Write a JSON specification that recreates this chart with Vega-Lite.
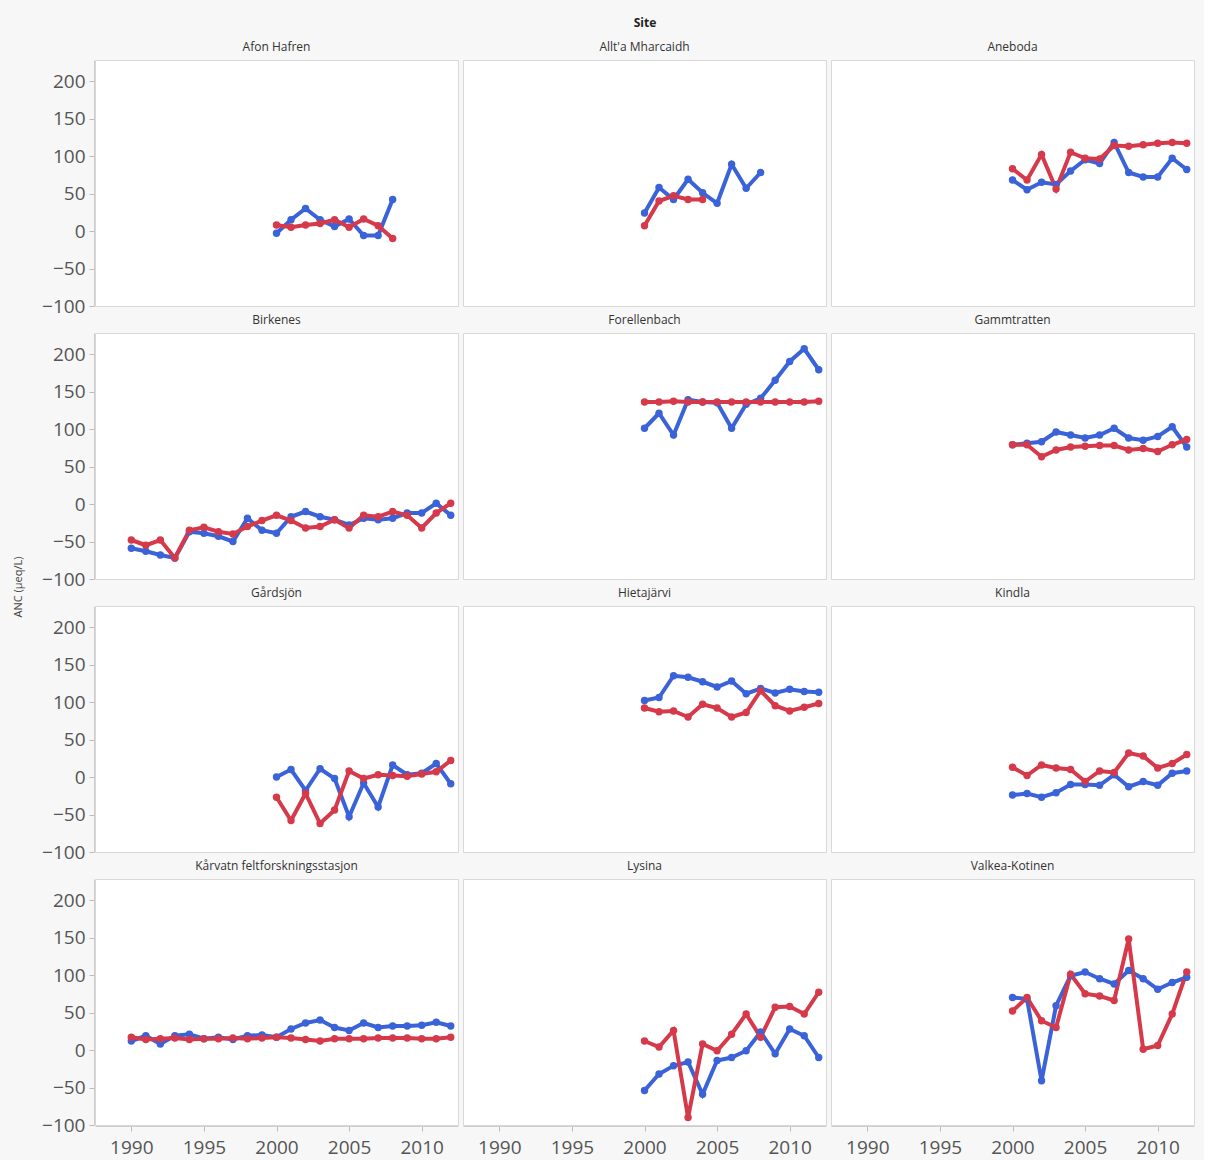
{
  "$schema": "https://vega.github.io/schema/vega-lite/v6.json",
  "background": "#f7f7f7",
  "padding": {"left": 12, "top": 17, "right": 8, "bottom": 3},
  "title": {"text": "ANC (µeq/L)", "orient": "left", "anchor": "middle", "fontSize": 11, "fontWeight": "normal", "color": "#444", "font": "Open Sans", "offset": 18},
  "datasets": {
    "obs": [
      {"Site": "Afon Hafren", "Series": "Observed", "Year": 2000, "ANC": -3},
      {"Site": "Afon Hafren", "Series": "Observed", "Year": 2001, "ANC": 15},
      {"Site": "Afon Hafren", "Series": "Observed", "Year": 2002, "ANC": 30},
      {"Site": "Afon Hafren", "Series": "Observed", "Year": 2003, "ANC": 15},
      {"Site": "Afon Hafren", "Series": "Observed", "Year": 2004, "ANC": 6},
      {"Site": "Afon Hafren", "Series": "Observed", "Year": 2005, "ANC": 16},
      {"Site": "Afon Hafren", "Series": "Observed", "Year": 2006, "ANC": -6},
      {"Site": "Afon Hafren", "Series": "Observed", "Year": 2007, "ANC": -6},
      {"Site": "Afon Hafren", "Series": "Observed", "Year": 2008, "ANC": 42},
      {"Site": "Afon Hafren", "Series": "Modelled", "Year": 2000, "ANC": 8},
      {"Site": "Afon Hafren", "Series": "Modelled", "Year": 2001, "ANC": 5},
      {"Site": "Afon Hafren", "Series": "Modelled", "Year": 2002, "ANC": 8},
      {"Site": "Afon Hafren", "Series": "Modelled", "Year": 2003, "ANC": 10},
      {"Site": "Afon Hafren", "Series": "Modelled", "Year": 2004, "ANC": 15},
      {"Site": "Afon Hafren", "Series": "Modelled", "Year": 2005, "ANC": 5},
      {"Site": "Afon Hafren", "Series": "Modelled", "Year": 2006, "ANC": 16},
      {"Site": "Afon Hafren", "Series": "Modelled", "Year": 2007, "ANC": 7},
      {"Site": "Afon Hafren", "Series": "Modelled", "Year": 2008, "ANC": -10},

      {"Site": "Allt'a Mharcaidh", "Series": "Observed", "Year": 2000, "ANC": 24},
      {"Site": "Allt'a Mharcaidh", "Series": "Observed", "Year": 2001, "ANC": 58},
      {"Site": "Allt'a Mharcaidh", "Series": "Observed", "Year": 2002, "ANC": 42},
      {"Site": "Allt'a Mharcaidh", "Series": "Observed", "Year": 2003, "ANC": 69},
      {"Site": "Allt'a Mharcaidh", "Series": "Observed", "Year": 2004, "ANC": 51},
      {"Site": "Allt'a Mharcaidh", "Series": "Observed", "Year": 2005, "ANC": 37},
      {"Site": "Allt'a Mharcaidh", "Series": "Observed", "Year": 2006, "ANC": 89},
      {"Site": "Allt'a Mharcaidh", "Series": "Observed", "Year": 2007, "ANC": 57},
      {"Site": "Allt'a Mharcaidh", "Series": "Observed", "Year": 2008, "ANC": 78},
      {"Site": "Allt'a Mharcaidh", "Series": "Modelled", "Year": 2000, "ANC": 7},
      {"Site": "Allt'a Mharcaidh", "Series": "Modelled", "Year": 2001, "ANC": 40},
      {"Site": "Allt'a Mharcaidh", "Series": "Modelled", "Year": 2002, "ANC": 47},
      {"Site": "Allt'a Mharcaidh", "Series": "Modelled", "Year": 2003, "ANC": 42},
      {"Site": "Allt'a Mharcaidh", "Series": "Modelled", "Year": 2004, "ANC": 42},

      {"Site": "Aneboda", "Series": "Observed", "Year": 2000, "ANC": 68},
      {"Site": "Aneboda", "Series": "Observed", "Year": 2001, "ANC": 55},
      {"Site": "Aneboda", "Series": "Observed", "Year": 2002, "ANC": 65},
      {"Site": "Aneboda", "Series": "Observed", "Year": 2003, "ANC": 62},
      {"Site": "Aneboda", "Series": "Observed", "Year": 2004, "ANC": 80},
      {"Site": "Aneboda", "Series": "Observed", "Year": 2005, "ANC": 95},
      {"Site": "Aneboda", "Series": "Observed", "Year": 2006, "ANC": 90},
      {"Site": "Aneboda", "Series": "Observed", "Year": 2007, "ANC": 118},
      {"Site": "Aneboda", "Series": "Observed", "Year": 2008, "ANC": 78},
      {"Site": "Aneboda", "Series": "Observed", "Year": 2009, "ANC": 72},
      {"Site": "Aneboda", "Series": "Observed", "Year": 2010, "ANC": 72},
      {"Site": "Aneboda", "Series": "Observed", "Year": 2011, "ANC": 97},
      {"Site": "Aneboda", "Series": "Observed", "Year": 2012, "ANC": 82},
      {"Site": "Aneboda", "Series": "Modelled", "Year": 2000, "ANC": 83},
      {"Site": "Aneboda", "Series": "Modelled", "Year": 2001, "ANC": 68},
      {"Site": "Aneboda", "Series": "Modelled", "Year": 2002, "ANC": 102},
      {"Site": "Aneboda", "Series": "Modelled", "Year": 2003, "ANC": 56},
      {"Site": "Aneboda", "Series": "Modelled", "Year": 2004, "ANC": 105},
      {"Site": "Aneboda", "Series": "Modelled", "Year": 2005, "ANC": 97},
      {"Site": "Aneboda", "Series": "Modelled", "Year": 2006, "ANC": 96},
      {"Site": "Aneboda", "Series": "Modelled", "Year": 2007, "ANC": 114},
      {"Site": "Aneboda", "Series": "Modelled", "Year": 2008, "ANC": 113},
      {"Site": "Aneboda", "Series": "Modelled", "Year": 2009, "ANC": 115},
      {"Site": "Aneboda", "Series": "Modelled", "Year": 2010, "ANC": 117},
      {"Site": "Aneboda", "Series": "Modelled", "Year": 2011, "ANC": 118},
      {"Site": "Aneboda", "Series": "Modelled", "Year": 2012, "ANC": 117},

      {"Site": "Birkenes", "Series": "Observed", "Year": 1990, "ANC": -59},
      {"Site": "Birkenes", "Series": "Observed", "Year": 1991, "ANC": -63},
      {"Site": "Birkenes", "Series": "Observed", "Year": 1992, "ANC": -68},
      {"Site": "Birkenes", "Series": "Observed", "Year": 1993, "ANC": -72},
      {"Site": "Birkenes", "Series": "Observed", "Year": 1994, "ANC": -37},
      {"Site": "Birkenes", "Series": "Observed", "Year": 1995, "ANC": -39},
      {"Site": "Birkenes", "Series": "Observed", "Year": 1996, "ANC": -43},
      {"Site": "Birkenes", "Series": "Observed", "Year": 1997, "ANC": -50},
      {"Site": "Birkenes", "Series": "Observed", "Year": 1998, "ANC": -19},
      {"Site": "Birkenes", "Series": "Observed", "Year": 1999, "ANC": -35},
      {"Site": "Birkenes", "Series": "Observed", "Year": 2000, "ANC": -39},
      {"Site": "Birkenes", "Series": "Observed", "Year": 2001, "ANC": -17},
      {"Site": "Birkenes", "Series": "Observed", "Year": 2002, "ANC": -10},
      {"Site": "Birkenes", "Series": "Observed", "Year": 2003, "ANC": -17},
      {"Site": "Birkenes", "Series": "Observed", "Year": 2004, "ANC": -21},
      {"Site": "Birkenes", "Series": "Observed", "Year": 2005, "ANC": -28},
      {"Site": "Birkenes", "Series": "Observed", "Year": 2006, "ANC": -19},
      {"Site": "Birkenes", "Series": "Observed", "Year": 2007, "ANC": -21},
      {"Site": "Birkenes", "Series": "Observed", "Year": 2008, "ANC": -19},
      {"Site": "Birkenes", "Series": "Observed", "Year": 2009, "ANC": -12},
      {"Site": "Birkenes", "Series": "Observed", "Year": 2010, "ANC": -12},
      {"Site": "Birkenes", "Series": "Observed", "Year": 2011, "ANC": 1},
      {"Site": "Birkenes", "Series": "Observed", "Year": 2012, "ANC": -15},
      {"Site": "Birkenes", "Series": "Modelled", "Year": 1990, "ANC": -48},
      {"Site": "Birkenes", "Series": "Modelled", "Year": 1991, "ANC": -55},
      {"Site": "Birkenes", "Series": "Modelled", "Year": 1992, "ANC": -48},
      {"Site": "Birkenes", "Series": "Modelled", "Year": 1993, "ANC": -72},
      {"Site": "Birkenes", "Series": "Modelled", "Year": 1994, "ANC": -35},
      {"Site": "Birkenes", "Series": "Modelled", "Year": 1995, "ANC": -31},
      {"Site": "Birkenes", "Series": "Modelled", "Year": 1996, "ANC": -37},
      {"Site": "Birkenes", "Series": "Modelled", "Year": 1997, "ANC": -40},
      {"Site": "Birkenes", "Series": "Modelled", "Year": 1998, "ANC": -30},
      {"Site": "Birkenes", "Series": "Modelled", "Year": 1999, "ANC": -22},
      {"Site": "Birkenes", "Series": "Modelled", "Year": 2000, "ANC": -15},
      {"Site": "Birkenes", "Series": "Modelled", "Year": 2001, "ANC": -22},
      {"Site": "Birkenes", "Series": "Modelled", "Year": 2002, "ANC": -32},
      {"Site": "Birkenes", "Series": "Modelled", "Year": 2003, "ANC": -30},
      {"Site": "Birkenes", "Series": "Modelled", "Year": 2004, "ANC": -21},
      {"Site": "Birkenes", "Series": "Modelled", "Year": 2005, "ANC": -32},
      {"Site": "Birkenes", "Series": "Modelled", "Year": 2006, "ANC": -15},
      {"Site": "Birkenes", "Series": "Modelled", "Year": 2007, "ANC": -17},
      {"Site": "Birkenes", "Series": "Modelled", "Year": 2008, "ANC": -10},
      {"Site": "Birkenes", "Series": "Modelled", "Year": 2009, "ANC": -15},
      {"Site": "Birkenes", "Series": "Modelled", "Year": 2010, "ANC": -32},
      {"Site": "Birkenes", "Series": "Modelled", "Year": 2011, "ANC": -12},
      {"Site": "Birkenes", "Series": "Modelled", "Year": 2012, "ANC": 1},

      {"Site": "Forellenbach", "Series": "Observed", "Year": 2000, "ANC": 101},
      {"Site": "Forellenbach", "Series": "Observed", "Year": 2001, "ANC": 121},
      {"Site": "Forellenbach", "Series": "Observed", "Year": 2002, "ANC": 92},
      {"Site": "Forellenbach", "Series": "Observed", "Year": 2003, "ANC": 139},
      {"Site": "Forellenbach", "Series": "Observed", "Year": 2004, "ANC": 136},
      {"Site": "Forellenbach", "Series": "Observed", "Year": 2005, "ANC": 135},
      {"Site": "Forellenbach", "Series": "Observed", "Year": 2006, "ANC": 101},
      {"Site": "Forellenbach", "Series": "Observed", "Year": 2007, "ANC": 133},
      {"Site": "Forellenbach", "Series": "Observed", "Year": 2008, "ANC": 141},
      {"Site": "Forellenbach", "Series": "Observed", "Year": 2009, "ANC": 165},
      {"Site": "Forellenbach", "Series": "Observed", "Year": 2010, "ANC": 190},
      {"Site": "Forellenbach", "Series": "Observed", "Year": 2011, "ANC": 207},
      {"Site": "Forellenbach", "Series": "Observed", "Year": 2012, "ANC": 179},
      {"Site": "Forellenbach", "Series": "Modelled", "Year": 2000, "ANC": 136},
      {"Site": "Forellenbach", "Series": "Modelled", "Year": 2001, "ANC": 136},
      {"Site": "Forellenbach", "Series": "Modelled", "Year": 2002, "ANC": 137},
      {"Site": "Forellenbach", "Series": "Modelled", "Year": 2003, "ANC": 136},
      {"Site": "Forellenbach", "Series": "Modelled", "Year": 2004, "ANC": 136},
      {"Site": "Forellenbach", "Series": "Modelled", "Year": 2005, "ANC": 136},
      {"Site": "Forellenbach", "Series": "Modelled", "Year": 2006, "ANC": 136},
      {"Site": "Forellenbach", "Series": "Modelled", "Year": 2007, "ANC": 136},
      {"Site": "Forellenbach", "Series": "Modelled", "Year": 2008, "ANC": 136},
      {"Site": "Forellenbach", "Series": "Modelled", "Year": 2009, "ANC": 136},
      {"Site": "Forellenbach", "Series": "Modelled", "Year": 2010, "ANC": 136},
      {"Site": "Forellenbach", "Series": "Modelled", "Year": 2011, "ANC": 136},
      {"Site": "Forellenbach", "Series": "Modelled", "Year": 2012, "ANC": 137},

      {"Site": "Gammtratten", "Series": "Observed", "Year": 2000, "ANC": 79},
      {"Site": "Gammtratten", "Series": "Observed", "Year": 2001, "ANC": 81},
      {"Site": "Gammtratten", "Series": "Observed", "Year": 2002, "ANC": 83},
      {"Site": "Gammtratten", "Series": "Observed", "Year": 2003, "ANC": 96},
      {"Site": "Gammtratten", "Series": "Observed", "Year": 2004, "ANC": 92},
      {"Site": "Gammtratten", "Series": "Observed", "Year": 2005, "ANC": 88},
      {"Site": "Gammtratten", "Series": "Observed", "Year": 2006, "ANC": 92},
      {"Site": "Gammtratten", "Series": "Observed", "Year": 2007, "ANC": 101},
      {"Site": "Gammtratten", "Series": "Observed", "Year": 2008, "ANC": 88},
      {"Site": "Gammtratten", "Series": "Observed", "Year": 2009, "ANC": 85},
      {"Site": "Gammtratten", "Series": "Observed", "Year": 2010, "ANC": 90},
      {"Site": "Gammtratten", "Series": "Observed", "Year": 2011, "ANC": 103},
      {"Site": "Gammtratten", "Series": "Observed", "Year": 2012, "ANC": 76},
      {"Site": "Gammtratten", "Series": "Modelled", "Year": 2000, "ANC": 79},
      {"Site": "Gammtratten", "Series": "Modelled", "Year": 2001, "ANC": 79},
      {"Site": "Gammtratten", "Series": "Modelled", "Year": 2002, "ANC": 63},
      {"Site": "Gammtratten", "Series": "Modelled", "Year": 2003, "ANC": 72},
      {"Site": "Gammtratten", "Series": "Modelled", "Year": 2004, "ANC": 76},
      {"Site": "Gammtratten", "Series": "Modelled", "Year": 2005, "ANC": 77},
      {"Site": "Gammtratten", "Series": "Modelled", "Year": 2006, "ANC": 78},
      {"Site": "Gammtratten", "Series": "Modelled", "Year": 2007, "ANC": 78},
      {"Site": "Gammtratten", "Series": "Modelled", "Year": 2008, "ANC": 72},
      {"Site": "Gammtratten", "Series": "Modelled", "Year": 2009, "ANC": 74},
      {"Site": "Gammtratten", "Series": "Modelled", "Year": 2010, "ANC": 70},
      {"Site": "Gammtratten", "Series": "Modelled", "Year": 2011, "ANC": 79},
      {"Site": "Gammtratten", "Series": "Modelled", "Year": 2012, "ANC": 86},

      {"Site": "Gårdsjön", "Series": "Observed", "Year": 2000, "ANC": 0},
      {"Site": "Gårdsjön", "Series": "Observed", "Year": 2001, "ANC": 10},
      {"Site": "Gårdsjön", "Series": "Observed", "Year": 2002, "ANC": -18},
      {"Site": "Gårdsjön", "Series": "Observed", "Year": 2003, "ANC": 11},
      {"Site": "Gårdsjön", "Series": "Observed", "Year": 2004, "ANC": -2},
      {"Site": "Gårdsjön", "Series": "Observed", "Year": 2005, "ANC": -53},
      {"Site": "Gårdsjön", "Series": "Observed", "Year": 2006, "ANC": -8},
      {"Site": "Gårdsjön", "Series": "Observed", "Year": 2007, "ANC": -40},
      {"Site": "Gårdsjön", "Series": "Observed", "Year": 2008, "ANC": 16},
      {"Site": "Gårdsjön", "Series": "Observed", "Year": 2009, "ANC": 3},
      {"Site": "Gårdsjön", "Series": "Observed", "Year": 2010, "ANC": 5},
      {"Site": "Gårdsjön", "Series": "Observed", "Year": 2011, "ANC": 18},
      {"Site": "Gårdsjön", "Series": "Observed", "Year": 2012, "ANC": -9},
      {"Site": "Gårdsjön", "Series": "Modelled", "Year": 2000, "ANC": -27},
      {"Site": "Gårdsjön", "Series": "Modelled", "Year": 2001, "ANC": -58},
      {"Site": "Gårdsjön", "Series": "Modelled", "Year": 2002, "ANC": -22},
      {"Site": "Gårdsjön", "Series": "Modelled", "Year": 2003, "ANC": -62},
      {"Site": "Gårdsjön", "Series": "Modelled", "Year": 2004, "ANC": -44},
      {"Site": "Gårdsjön", "Series": "Modelled", "Year": 2005, "ANC": 8},
      {"Site": "Gårdsjön", "Series": "Modelled", "Year": 2006, "ANC": -2},
      {"Site": "Gårdsjön", "Series": "Modelled", "Year": 2007, "ANC": 3},
      {"Site": "Gårdsjön", "Series": "Modelled", "Year": 2008, "ANC": 2},
      {"Site": "Gårdsjön", "Series": "Modelled", "Year": 2009, "ANC": 1},
      {"Site": "Gårdsjön", "Series": "Modelled", "Year": 2010, "ANC": 4},
      {"Site": "Gårdsjön", "Series": "Modelled", "Year": 2011, "ANC": 7},
      {"Site": "Gårdsjön", "Series": "Modelled", "Year": 2012, "ANC": 22},

      {"Site": "Hietajärvi", "Series": "Observed", "Year": 2000, "ANC": 102},
      {"Site": "Hietajärvi", "Series": "Observed", "Year": 2001, "ANC": 106},
      {"Site": "Hietajärvi", "Series": "Observed", "Year": 2002, "ANC": 135},
      {"Site": "Hietajärvi", "Series": "Observed", "Year": 2003, "ANC": 133},
      {"Site": "Hietajärvi", "Series": "Observed", "Year": 2004, "ANC": 127},
      {"Site": "Hietajärvi", "Series": "Observed", "Year": 2005, "ANC": 120},
      {"Site": "Hietajärvi", "Series": "Observed", "Year": 2006, "ANC": 128},
      {"Site": "Hietajärvi", "Series": "Observed", "Year": 2007, "ANC": 111},
      {"Site": "Hietajärvi", "Series": "Observed", "Year": 2008, "ANC": 118},
      {"Site": "Hietajärvi", "Series": "Observed", "Year": 2009, "ANC": 112},
      {"Site": "Hietajärvi", "Series": "Observed", "Year": 2010, "ANC": 117},
      {"Site": "Hietajärvi", "Series": "Observed", "Year": 2011, "ANC": 114},
      {"Site": "Hietajärvi", "Series": "Observed", "Year": 2012, "ANC": 113},
      {"Site": "Hietajärvi", "Series": "Modelled", "Year": 2000, "ANC": 92},
      {"Site": "Hietajärvi", "Series": "Modelled", "Year": 2001, "ANC": 87},
      {"Site": "Hietajärvi", "Series": "Modelled", "Year": 2002, "ANC": 88},
      {"Site": "Hietajärvi", "Series": "Modelled", "Year": 2003, "ANC": 80},
      {"Site": "Hietajärvi", "Series": "Modelled", "Year": 2004, "ANC": 97},
      {"Site": "Hietajärvi", "Series": "Modelled", "Year": 2005, "ANC": 92},
      {"Site": "Hietajärvi", "Series": "Modelled", "Year": 2006, "ANC": 80},
      {"Site": "Hietajärvi", "Series": "Modelled", "Year": 2007, "ANC": 86},
      {"Site": "Hietajärvi", "Series": "Modelled", "Year": 2008, "ANC": 115},
      {"Site": "Hietajärvi", "Series": "Modelled", "Year": 2009, "ANC": 95},
      {"Site": "Hietajärvi", "Series": "Modelled", "Year": 2010, "ANC": 88},
      {"Site": "Hietajärvi", "Series": "Modelled", "Year": 2011, "ANC": 93},
      {"Site": "Hietajärvi", "Series": "Modelled", "Year": 2012, "ANC": 98},

      {"Site": "Kindla", "Series": "Observed", "Year": 2000, "ANC": -24},
      {"Site": "Kindla", "Series": "Observed", "Year": 2001, "ANC": -22},
      {"Site": "Kindla", "Series": "Observed", "Year": 2002, "ANC": -27},
      {"Site": "Kindla", "Series": "Observed", "Year": 2003, "ANC": -21},
      {"Site": "Kindla", "Series": "Observed", "Year": 2004, "ANC": -10},
      {"Site": "Kindla", "Series": "Observed", "Year": 2005, "ANC": -10},
      {"Site": "Kindla", "Series": "Observed", "Year": 2006, "ANC": -11},
      {"Site": "Kindla", "Series": "Observed", "Year": 2007, "ANC": 3},
      {"Site": "Kindla", "Series": "Observed", "Year": 2008, "ANC": -13},
      {"Site": "Kindla", "Series": "Observed", "Year": 2009, "ANC": -6},
      {"Site": "Kindla", "Series": "Observed", "Year": 2010, "ANC": -11},
      {"Site": "Kindla", "Series": "Observed", "Year": 2011, "ANC": 5},
      {"Site": "Kindla", "Series": "Observed", "Year": 2012, "ANC": 8},
      {"Site": "Kindla", "Series": "Modelled", "Year": 2000, "ANC": 13},
      {"Site": "Kindla", "Series": "Modelled", "Year": 2001, "ANC": 2},
      {"Site": "Kindla", "Series": "Modelled", "Year": 2002, "ANC": 16},
      {"Site": "Kindla", "Series": "Modelled", "Year": 2003, "ANC": 12},
      {"Site": "Kindla", "Series": "Modelled", "Year": 2004, "ANC": 10},
      {"Site": "Kindla", "Series": "Modelled", "Year": 2005, "ANC": -6},
      {"Site": "Kindla", "Series": "Modelled", "Year": 2006, "ANC": 8},
      {"Site": "Kindla", "Series": "Modelled", "Year": 2007, "ANC": 6},
      {"Site": "Kindla", "Series": "Modelled", "Year": 2008, "ANC": 32},
      {"Site": "Kindla", "Series": "Modelled", "Year": 2009, "ANC": 28},
      {"Site": "Kindla", "Series": "Modelled", "Year": 2010, "ANC": 12},
      {"Site": "Kindla", "Series": "Modelled", "Year": 2011, "ANC": 18},
      {"Site": "Kindla", "Series": "Modelled", "Year": 2012, "ANC": 30},

      {"Site": "Kårvatn feltforskningsstasjon", "Series": "Observed", "Year": 1990, "ANC": 12},
      {"Site": "Kårvatn feltforskningsstasjon", "Series": "Observed", "Year": 1991, "ANC": 19},
      {"Site": "Kårvatn feltforskningsstasjon", "Series": "Observed", "Year": 1992, "ANC": 8},
      {"Site": "Kårvatn feltforskningsstasjon", "Series": "Observed", "Year": 1993, "ANC": 19},
      {"Site": "Kårvatn feltforskningsstasjon", "Series": "Observed", "Year": 1994, "ANC": 21},
      {"Site": "Kårvatn feltforskningsstasjon", "Series": "Observed", "Year": 1995, "ANC": 15},
      {"Site": "Kårvatn feltforskningsstasjon", "Series": "Observed", "Year": 1996, "ANC": 17},
      {"Site": "Kårvatn feltforskningsstasjon", "Series": "Observed", "Year": 1997, "ANC": 14},
      {"Site": "Kårvatn feltforskningsstasjon", "Series": "Observed", "Year": 1998, "ANC": 19},
      {"Site": "Kårvatn feltforskningsstasjon", "Series": "Observed", "Year": 1999, "ANC": 20},
      {"Site": "Kårvatn feltforskningsstasjon", "Series": "Observed", "Year": 2000, "ANC": 17},
      {"Site": "Kårvatn feltforskningsstasjon", "Series": "Observed", "Year": 2001, "ANC": 28},
      {"Site": "Kårvatn feltforskningsstasjon", "Series": "Observed", "Year": 2002, "ANC": 36},
      {"Site": "Kårvatn feltforskningsstasjon", "Series": "Observed", "Year": 2003, "ANC": 40},
      {"Site": "Kårvatn feltforskningsstasjon", "Series": "Observed", "Year": 2004, "ANC": 30},
      {"Site": "Kårvatn feltforskningsstasjon", "Series": "Observed", "Year": 2005, "ANC": 26},
      {"Site": "Kårvatn feltforskningsstasjon", "Series": "Observed", "Year": 2006, "ANC": 36},
      {"Site": "Kårvatn feltforskningsstasjon", "Series": "Observed", "Year": 2007, "ANC": 30},
      {"Site": "Kårvatn feltforskningsstasjon", "Series": "Observed", "Year": 2008, "ANC": 32},
      {"Site": "Kårvatn feltforskningsstasjon", "Series": "Observed", "Year": 2009, "ANC": 32},
      {"Site": "Kårvatn feltforskningsstasjon", "Series": "Observed", "Year": 2010, "ANC": 33},
      {"Site": "Kårvatn feltforskningsstasjon", "Series": "Observed", "Year": 2011, "ANC": 37},
      {"Site": "Kårvatn feltforskningsstasjon", "Series": "Observed", "Year": 2012, "ANC": 32},
      {"Site": "Kårvatn feltforskningsstasjon", "Series": "Modelled", "Year": 1990, "ANC": 17},
      {"Site": "Kårvatn feltforskningsstasjon", "Series": "Modelled", "Year": 1991, "ANC": 14},
      {"Site": "Kårvatn feltforskningsstasjon", "Series": "Modelled", "Year": 1992, "ANC": 15},
      {"Site": "Kårvatn feltforskningsstasjon", "Series": "Modelled", "Year": 1993, "ANC": 16},
      {"Site": "Kårvatn feltforskningsstasjon", "Series": "Modelled", "Year": 1994, "ANC": 14},
      {"Site": "Kårvatn feltforskningsstasjon", "Series": "Modelled", "Year": 1995, "ANC": 15},
      {"Site": "Kårvatn feltforskningsstasjon", "Series": "Modelled", "Year": 1996, "ANC": 15},
      {"Site": "Kårvatn feltforskningsstasjon", "Series": "Modelled", "Year": 1997, "ANC": 16},
      {"Site": "Kårvatn feltforskningsstasjon", "Series": "Modelled", "Year": 1998, "ANC": 15},
      {"Site": "Kårvatn feltforskningsstasjon", "Series": "Modelled", "Year": 1999, "ANC": 16},
      {"Site": "Kårvatn feltforskningsstasjon", "Series": "Modelled", "Year": 2000, "ANC": 17},
      {"Site": "Kårvatn feltforskningsstasjon", "Series": "Modelled", "Year": 2001, "ANC": 16},
      {"Site": "Kårvatn feltforskningsstasjon", "Series": "Modelled", "Year": 2002, "ANC": 14},
      {"Site": "Kårvatn feltforskningsstasjon", "Series": "Modelled", "Year": 2003, "ANC": 12},
      {"Site": "Kårvatn feltforskningsstasjon", "Series": "Modelled", "Year": 2004, "ANC": 15},
      {"Site": "Kårvatn feltforskningsstasjon", "Series": "Modelled", "Year": 2005, "ANC": 15},
      {"Site": "Kårvatn feltforskningsstasjon", "Series": "Modelled", "Year": 2006, "ANC": 15},
      {"Site": "Kårvatn feltforskningsstasjon", "Series": "Modelled", "Year": 2007, "ANC": 16},
      {"Site": "Kårvatn feltforskningsstasjon", "Series": "Modelled", "Year": 2008, "ANC": 16},
      {"Site": "Kårvatn feltforskningsstasjon", "Series": "Modelled", "Year": 2009, "ANC": 16},
      {"Site": "Kårvatn feltforskningsstasjon", "Series": "Modelled", "Year": 2010, "ANC": 15},
      {"Site": "Kårvatn feltforskningsstasjon", "Series": "Modelled", "Year": 2011, "ANC": 15},
      {"Site": "Kårvatn feltforskningsstasjon", "Series": "Modelled", "Year": 2012, "ANC": 17},

      {"Site": "Lysina", "Series": "Observed", "Year": 2000, "ANC": -54},
      {"Site": "Lysina", "Series": "Observed", "Year": 2001, "ANC": -32},
      {"Site": "Lysina", "Series": "Observed", "Year": 2002, "ANC": -21},
      {"Site": "Lysina", "Series": "Observed", "Year": 2003, "ANC": -16},
      {"Site": "Lysina", "Series": "Observed", "Year": 2004, "ANC": -59},
      {"Site": "Lysina", "Series": "Observed", "Year": 2005, "ANC": -14},
      {"Site": "Lysina", "Series": "Observed", "Year": 2006, "ANC": -10},
      {"Site": "Lysina", "Series": "Observed", "Year": 2007, "ANC": -1},
      {"Site": "Lysina", "Series": "Observed", "Year": 2008, "ANC": 24},
      {"Site": "Lysina", "Series": "Observed", "Year": 2009, "ANC": -5},
      {"Site": "Lysina", "Series": "Observed", "Year": 2010, "ANC": 28},
      {"Site": "Lysina", "Series": "Observed", "Year": 2011, "ANC": 19},
      {"Site": "Lysina", "Series": "Observed", "Year": 2012, "ANC": -10},
      {"Site": "Lysina", "Series": "Modelled", "Year": 2000, "ANC": 12},
      {"Site": "Lysina", "Series": "Modelled", "Year": 2001, "ANC": 4},
      {"Site": "Lysina", "Series": "Modelled", "Year": 2002, "ANC": 26},
      {"Site": "Lysina", "Series": "Modelled", "Year": 2003, "ANC": -90},
      {"Site": "Lysina", "Series": "Modelled", "Year": 2004, "ANC": 8},
      {"Site": "Lysina", "Series": "Modelled", "Year": 2005, "ANC": -1},
      {"Site": "Lysina", "Series": "Modelled", "Year": 2006, "ANC": 21},
      {"Site": "Lysina", "Series": "Modelled", "Year": 2007, "ANC": 48},
      {"Site": "Lysina", "Series": "Modelled", "Year": 2008, "ANC": 17},
      {"Site": "Lysina", "Series": "Modelled", "Year": 2009, "ANC": 57},
      {"Site": "Lysina", "Series": "Modelled", "Year": 2010, "ANC": 58},
      {"Site": "Lysina", "Series": "Modelled", "Year": 2011, "ANC": 48},
      {"Site": "Lysina", "Series": "Modelled", "Year": 2012, "ANC": 77},

      {"Site": "Valkea-Kotinen", "Series": "Observed", "Year": 2000, "ANC": 70},
      {"Site": "Valkea-Kotinen", "Series": "Observed", "Year": 2001, "ANC": 68},
      {"Site": "Valkea-Kotinen", "Series": "Observed", "Year": 2002, "ANC": -41},
      {"Site": "Valkea-Kotinen", "Series": "Observed", "Year": 2003, "ANC": 59},
      {"Site": "Valkea-Kotinen", "Series": "Observed", "Year": 2004, "ANC": 99},
      {"Site": "Valkea-Kotinen", "Series": "Observed", "Year": 2005, "ANC": 104},
      {"Site": "Valkea-Kotinen", "Series": "Observed", "Year": 2006, "ANC": 95},
      {"Site": "Valkea-Kotinen", "Series": "Observed", "Year": 2007, "ANC": 88},
      {"Site": "Valkea-Kotinen", "Series": "Observed", "Year": 2008, "ANC": 106},
      {"Site": "Valkea-Kotinen", "Series": "Observed", "Year": 2009, "ANC": 95},
      {"Site": "Valkea-Kotinen", "Series": "Observed", "Year": 2010, "ANC": 81},
      {"Site": "Valkea-Kotinen", "Series": "Observed", "Year": 2011, "ANC": 90},
      {"Site": "Valkea-Kotinen", "Series": "Observed", "Year": 2012, "ANC": 97},
      {"Site": "Valkea-Kotinen", "Series": "Modelled", "Year": 2000, "ANC": 52},
      {"Site": "Valkea-Kotinen", "Series": "Modelled", "Year": 2001, "ANC": 70},
      {"Site": "Valkea-Kotinen", "Series": "Modelled", "Year": 2002, "ANC": 39},
      {"Site": "Valkea-Kotinen", "Series": "Modelled", "Year": 2003, "ANC": 30},
      {"Site": "Valkea-Kotinen", "Series": "Modelled", "Year": 2004, "ANC": 101},
      {"Site": "Valkea-Kotinen", "Series": "Modelled", "Year": 2005, "ANC": 75},
      {"Site": "Valkea-Kotinen", "Series": "Modelled", "Year": 2006, "ANC": 72},
      {"Site": "Valkea-Kotinen", "Series": "Modelled", "Year": 2007, "ANC": 66},
      {"Site": "Valkea-Kotinen", "Series": "Modelled", "Year": 2008, "ANC": 148},
      {"Site": "Valkea-Kotinen", "Series": "Modelled", "Year": 2009, "ANC": 1},
      {"Site": "Valkea-Kotinen", "Series": "Modelled", "Year": 2010, "ANC": 6},
      {"Site": "Valkea-Kotinen", "Series": "Modelled", "Year": 2011, "ANC": 48},
      {"Site": "Valkea-Kotinen", "Series": "Modelled", "Year": 2012, "ANC": 104}
    ]
  },
  "data": {"name": "obs"},
  "facet": {
    "field": "Site",
    "type": "nominal",
    "sort": ["Afon Hafren", "Allt'a Mharcaidh", "Aneboda", "Birkenes", "Forellenbach", "Gammtratten", "Gårdsjön", "Hietajärvi", "Kindla", "Kårvatn feltforskningsstasjon", "Lysina", "Valkea-Kotinen"],
    "header": {
      "title": "Site",
      "titleFontSize": 12,
      "titleFontWeight": "bold",
      "titleColor": "#222",
      "titleFont": "Open Sans",
      "titlePadding": 10,
      "labelFontSize": 12,
      "labelColor": "#333",
      "labelFont": "Open Sans",
      "labelPadding": 6
    }
  },
  "columns": 3,
  "spacing": {"row": 6, "column": 2},
  "spec": {
    "width": 363,
    "height": 246,
    "mark": {"type": "line", "strokeWidth": 4, "point": {"filled": true, "size": 55}},
    "encoding": {
      "x": {
        "field": "Year", "type": "quantitative",
        "scale": {"domain": [1987.5, 2012.5], "nice": false, "zero": false},
        "axis": {"title": null, "values": [1990, 1995, 2000, 2005, 2010], "format": "d", "labelFontSize": 19, "labelColor": "#555", "labelFont": "Open Sans", "tickColor": "#bbb", "domainColor": "#ccc", "grid": false, "labelPadding": 7}
      },
      "y": {
        "field": "ANC", "type": "quantitative",
        "scale": {"domain": [-100, 228], "nice": false},
        "axis": {"title": null, "values": [-100, -50, 0, 50, 100, 150, 200], "labelFontSize": 19, "labelColor": "#555", "labelFont": "Open Sans", "tickColor": "#bbb", "domainColor": "#ccc", "grid": false, "labelPadding": 4}
      },
      "color": {
        "field": "Series", "type": "nominal",
        "scale": {"domain": ["Observed", "Modelled"], "range": ["#3a62d9", "#d63a4a"]},
        "legend": null
      }
    }
  },
  "config": {
    "view": {"fill": "white", "stroke": "#d8d8d8", "strokeWidth": 1}
  }
}
